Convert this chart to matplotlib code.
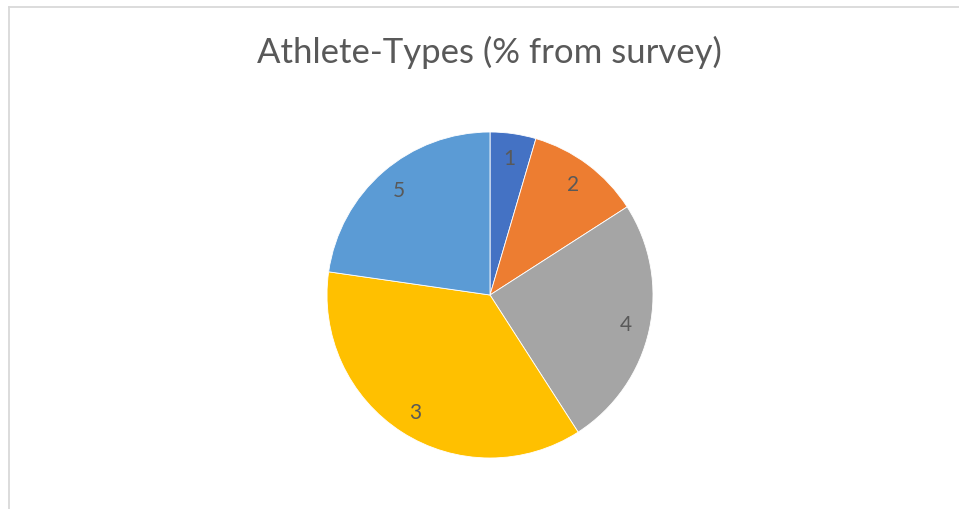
import matplotlib.pyplot as plt
from matplotlib.lines import Line2D

# categorías (orden de los sectores, en sentido horario desde arriba)
etiquetas = ["1", "2", "4", "3", "5"]
# respuestas de la encuesta
valores = [2, 5, 11, 16, 10]
colores = ["#4472C4", "#ED7D31", "#A5A5A5", "#FFC000", "#5B9BD5"]
titulo = "Athlete-Types (% from survey)"

W, H = 959, 510
fig = plt.figure(figsize=(W / 100, H / 100), dpi=100)

# marco gris (solo arriba e izquierda visibles)
fig.add_artist(Line2D([8.5 / W, 8.5 / W], [0, 1 - 7.5 / H], transform=fig.transFigure,
                      color="#d9d9d9", lw=1.3))
fig.add_artist(Line2D([8.5 / W, 1], [1 - 7.5 / H, 1 - 7.5 / H], transform=fig.transFigure,
                      color="#d9d9d9", lw=1.3))

cx, cy, r = 490, 296, 163
ax = fig.add_axes([(cx - r) / W, (H - cy - r) / H, 2 * r / W, 2 * r / H])
wedges, textos = ax.pie(valores, labels=etiquetas, colors=colores, startangle=90,
                        counterclock=False, labeldistance=0.85, radius=1,
                        wedgeprops=dict(edgecolor="white", linewidth=0.6),
                        textprops=dict(color="#595959", fontsize=15, family="Lato"))
for t in textos:
    t.set_ha("center")
    t.set_va("center")
ax.set_xlim(-1, 1)
ax.set_ylim(-1, 1)
ax.set_aspect("equal")
ax.axis("off")

fig.text(489 / W, 1 - 52 / H, titulo, ha="center", va="center",
         fontsize=25, color="#595959", family="Lato")

fig.savefig("out.png", dpi=100)
